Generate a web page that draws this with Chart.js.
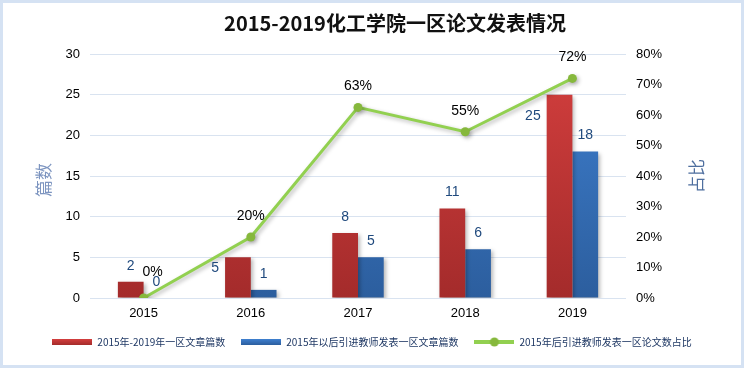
<!DOCTYPE html>
<html>
<head>
<meta charset="utf-8">
<script src="https://cdn.jsdelivr.net/npm/chart.js@4/dist/chart.umd.min.js"></script>
<style>
  html, body { margin: 0; padding: 0; background: #fff; }
  #wrap { width: 744px; height: 368px; position: relative; }
</style>
</head>
<body>
<div id="wrap"><canvas id="c" width="744" height="368"></canvas></div>
<script>
// ---- data ----
const categories = ['2015', '2016', '2017', '2018', '2019'];
const totalPapers = [2, 5, 8, 11, 25];          // 2015年-2019年一区文章篇数
const newTeacherPapers = [0, 1, 5, 6, 18];      // 2015年以后引进教师发表一区文章篇数
const newTeacherShare = [0, 20, 62.5, 54.5, 72]; // 2015年后引进教师发表一区论文数占比 (%)
const seriesNames = ['2015年-2019年一区文章篇数', '2015年以后引进教师发表一区文章篇数', '2015年后引进教师发表一区论文数占比'];
const titleText = '2015-2019化工学院一区论文发表情况';
const leftAxisTitle = '篇数';
const rightAxisTitle = '占比';

// ---- style ----
const RED_TOP = '#d43f3e', RED_BOT = '#a42b2b';
const BLUE_TOP = '#3f80d0', BLUE_BOT = '#2c5e9e';
const GREEN = '#92d050', GREEN_PT = '#86b83c';
const LABEL_BLUE = '#1f497d';
// label placement for red bars (most on top, two moved to the left of the bar)
const redLabelPlace = [{side:'top'}, {side:'left', dy: 11}, {side:'top'}, {side:'top'}, {side:'left', dy: 21}];
const lineLabelNudge = [[9, -5], [0, 0], [0, 0], [0, 0], [0, 0]];

function barColor(top, bot) {
  return (c) => {
    const chart = c.chart;
    if (!chart.chartArea) return top;
    const el = c.element;
    if (el && el.y !== undefined && isFinite(el.y) && isFinite(el.base) && el.base - el.y > 1) {
      const g = chart.ctx.createLinearGradient(0, el.y, 0, el.base);
      g.addColorStop(0, top); g.addColorStop(1, bot);
      return g;
    }
    const area = chart.chartArea;
    const g = chart.ctx.createLinearGradient(0, area.top, 0, area.bottom);
    g.addColorStop(0, top); g.addColorStop(1, bot);
    return g;
  };
}

function legendIcon(kind) {
  const cv = document.createElement('canvas');
  cv.width = 40; cv.height = 10;
  const x = cv.getContext('2d');
  if (kind === 'line') {
    x.fillStyle = GREEN;
    x.fillRect(0, 3, 40, 4);
    x.beginPath(); x.arc(20, 5, 4.5, 0, Math.PI * 2);
    x.fillStyle = GREEN_PT; x.fill();
  } else {
    const g = x.createLinearGradient(0, 2, 0, 8);
    g.addColorStop(0, kind === 'red' ? RED_TOP : BLUE_TOP);
    g.addColorStop(1, kind === 'red' ? RED_BOT : BLUE_BOT);
    x.fillStyle = g;
    x.fillRect(0, 2, 40, 6);
  }
  return cv;
}
const icons = [legendIcon('red'), legendIcon('blue'), legendIcon('line')];

const framePlugin = {
  id: 'frame',
  beforeDraw(chart) {
    const ctx = chart.ctx;
    ctx.save();
    ctx.fillStyle = '#ffffff';
    ctx.fillRect(0, 0, chart.width, chart.height);
    ctx.strokeStyle = '#d5e2f3';
    ctx.lineWidth = 3;
    ctx.strokeRect(1.5, 1.5, chart.width - 3, chart.height - 3);
    ctx.restore();
  },
  afterDraw(chart) {
    const ctx = chart.ctx;
    ctx.save();
    // title
    ctx.fillStyle = '#111111';
    ctx.font = 'bold 20px "Noto Sans CJK SC", sans-serif';
    ctx.textAlign = 'center';
    ctx.textBaseline = 'middle';
    ctx.fillText(titleText, 395, 23);
    // axis titles
    ctx.font = '17px "Noto Sans CJK SC", sans-serif';
    ctx.fillStyle = '#7d95c0';
    ctx.translate(44, 180);
    ctx.rotate(-Math.PI / 2);
    ctx.fillText(leftAxisTitle, 0, 0);
    ctx.setTransform(1, 0, 0, 1, 0, 0);
    ctx.fillStyle = '#4f6f9f';
    ctx.translate(697, 176);
    ctx.rotate(-Math.PI / 2);
    ctx.fillText(rightAxisTitle, 0, 0);
    ctx.restore();
  }
};

const labelPlugin = {
  id: 'valueLabels',
  afterDatasetsDraw(chart) {
    const ctx = chart.ctx;
    ctx.save();
    ctx.textBaseline = 'middle';
    ctx.font = '14px "Liberation Sans", Arial, sans-serif';
    const m0 = chart.getDatasetMeta(0);
    m0.data.forEach((el, i) => {
      const v = chart.data.datasets[0].data[i];
      const p = redLabelPlace[i];
      ctx.fillStyle = LABEL_BLUE;
      if (p.side === 'left') {
        ctx.textAlign = 'right';
        ctx.fillText(String(v), el.x - el.width / 2 - 6, el.y + p.dy);
      } else {
        ctx.textAlign = 'center';
        ctx.fillText(String(v), el.x, el.y - 16);
      }
    });
    const m1 = chart.getDatasetMeta(1);
    m1.data.forEach((el, i) => {
      const v = chart.data.datasets[1].data[i];
      ctx.fillStyle = LABEL_BLUE;
      ctx.textAlign = 'center';
      ctx.fillText(String(v), el.x, el.y - 16);
    });
    const m2 = chart.getDatasetMeta(2);
    m2.data.forEach((el, i) => {
      const v = chart.data.datasets[2].data[i];
      ctx.fillStyle = '#000000';
      ctx.textAlign = 'center';
      const n = lineLabelNudge[i];
      ctx.fillText(Math.round(v) + '%', el.x + n[0], el.y - 21 + n[1]);
    });
    ctx.restore();
  }
};

const shadowPlugin = {
  id: 'shadow',
  beforeDatasetDraw(chart) {
    const ctx = chart.ctx;
    ctx.save();
    ctx.shadowColor = 'rgba(0,0,0,0.28)';
    ctx.shadowBlur = 4;
    ctx.shadowOffsetX = 2;
    ctx.shadowOffsetY = 2;
  },
  afterDatasetDraw(chart) {
    chart.ctx.restore();
  }
};

new Chart(document.getElementById('c'), {
  type: 'bar',
  data: {
    labels: categories,
    datasets: [
      {
        label: seriesNames[0],
        data: totalPapers,
        backgroundColor: barColor(RED_TOP, RED_BOT),
        yAxisID: 'y',
        categoryPercentage: 0.48,
        barPercentage: 1.0,
        order: 2
      },
      {
        label: seriesNames[1],
        data: newTeacherPapers,
        backgroundColor: barColor(BLUE_TOP, BLUE_BOT),
        yAxisID: 'y',
        categoryPercentage: 0.48,
        barPercentage: 1.0,
        order: 2
      },
      {
        type: 'line',
        label: seriesNames[2],
        data: newTeacherShare,
        borderColor: GREEN,
        borderWidth: 3,
        pointRadius: 4.5,
        pointBackgroundColor: GREEN_PT,
        pointBorderColor: GREEN_PT,
        pointBorderWidth: 0,
        yAxisID: 'y1',
        tension: 0,
        order: 1
      }
    ]
  },
  options: {
    responsive: false,
    animation: false,
    devicePixelRatio: 1,
    layout: { padding: { top: 54, left: 0, right: 0, bottom: 11 } },
    plugins: {
      title: { display: false },
      tooltip: { enabled: false },
      legend: {
        position: 'bottom',
        labels: {
          usePointStyle: true,
          pointStyleWidth: 40,
          boxHeight: 10,
          padding: 16,
          color: '#1f3864',
          font: { family: '"Noto Sans CJK SC", sans-serif', size: 10 },
          generateLabels(chart) {
            return chart.data.datasets.map((ds, i) => ({
              text: ds.label,
              pointStyle: icons[i],
              fillStyle: 'transparent',
              strokeStyle: 'transparent',
              lineWidth: 0,
              fontColor: '#1f3864',
              datasetIndex: i,
              hidden: false
            }));
          }
        }
      }
    },
    scales: {
      x: {
        offset: true,
        grid: { display: false, drawTicks: false },
        border: { display: false },
        ticks: { color: '#000', padding: 8, font: { family: '"Liberation Sans", Arial, sans-serif', size: 13 } },
        afterFit(s) { s.height = 23; }
      },
      y: {
        position: 'left',
        min: 0, max: 30,
        ticks: { stepSize: 5, color: '#000', padding: 10, font: { family: '"Liberation Sans", Arial, sans-serif', size: 13 } },
        grid: { color: '#d9e3f0', lineWidth: 1, drawTicks: false },
        border: { display: false },
        afterFit(s) { s.width = 90; }
      },
      y1: {
        position: 'right',
        min: 0, max: 80,
        ticks: { stepSize: 10, color: '#000', padding: 10, callback: (v) => v + '%', font: { family: '"Liberation Sans", Arial, sans-serif', size: 13 } },
        grid: { display: false, drawTicks: false },
        border: { display: false },
        afterFit(s) { s.width = 118; }
      }
    }
  },
  plugins: [framePlugin, shadowPlugin, labelPlugin]
});
</script>
</body>
</html>
